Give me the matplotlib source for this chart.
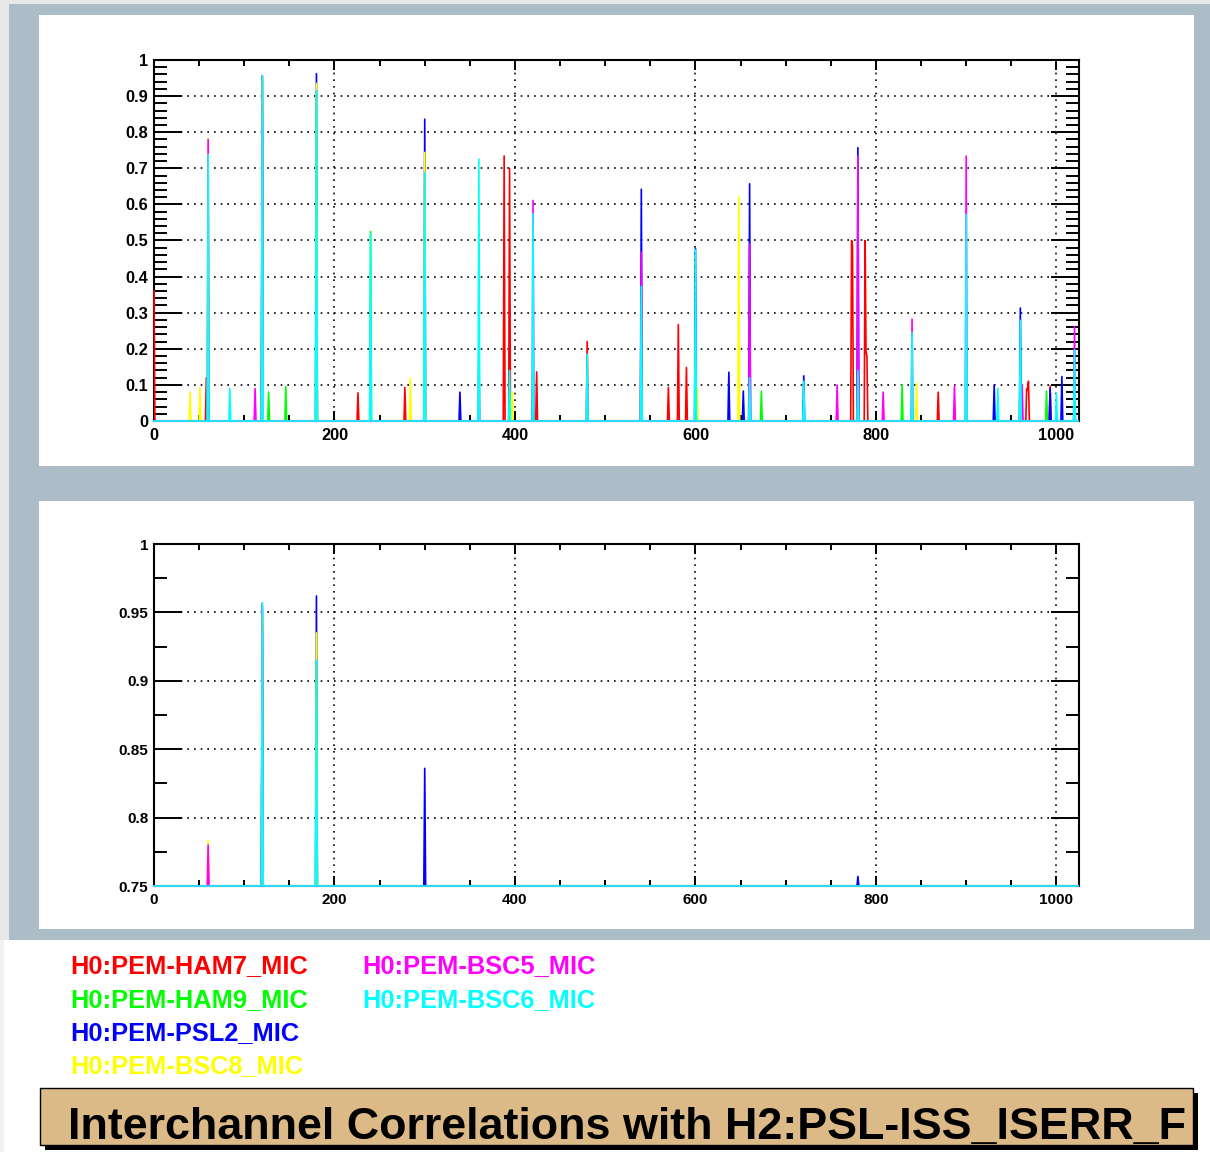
import numpy as np
import matplotlib
matplotlib.use("Agg")
import matplotlib.pyplot as plt
from matplotlib.patches import Rectangle
from matplotlib.ticker import MultipleLocator, FuncFormatter

W, H = 1210, 1152
n_bins = 1025

channels = ["H0:PEM-HAM7_MIC", "H0:PEM-HAM9_MIC", "H0:PEM-PSL2_MIC",
            "H0:PEM-BSC8_MIC", "H0:PEM-BSC5_MIC", "H0:PEM-BSC6_MIC"]
colors = ["#ff0000", "#00ff00", "#0000ff", "#ffff00", "#ff00ff", "#00ffff"]
title = "Interchannel Correlations with H2:PSL-ISS_ISERR_F"

# correlation peaks per channel: frequency bin -> value (zero elsewhere)
ham7_x = [0, 58, 226, 278, 388, 394, 424, 480, 570, 581, 590,
          773, 774, 788, 789, 790, 869, 967, 968, 969, 993]
ham7_y = [0.36, 0.12, 0.078, 0.093, 0.734, 0.70, 0.136, 0.22, 0.093, 0.267, 0.148,
          0.50, 0.485, 0.50, 0.19, 0.18, 0.08, 0.09, 0.085, 0.11, 0.097]

ham9_x = [120, 127, 146, 180, 240, 673, 829, 989]
ham9_y = [0.95, 0.08, 0.095, 0.915, 0.525, 0.083, 0.10, 0.083]

psl2_x = [120, 180, 300, 339, 420, 540, 600, 637, 653, 660, 720, 780, 931, 960, 993, 1006]
psl2_y = [0.955, 0.962, 0.836, 0.08, 0.14, 0.642, 0.478, 0.135, 0.083, 0.657, 0.125,
          0.757, 0.10, 0.313, 0.09, 0.123]

bsc8_x = [40, 51, 60, 120, 180, 284, 300, 397, 602, 648, 845]
bsc8_y = [0.08, 0.092, 0.783, 0.95, 0.935, 0.118, 0.744, 0.08, 0.09, 0.623, 0.105]

bsc5_x = [60, 112, 120, 360, 420, 540, 660, 757, 780, 808, 840, 887, 900, 962, 1020]
bsc5_y = [0.78, 0.09, 0.957, 0.2, 0.611, 0.468, 0.49, 0.10, 0.734, 0.08, 0.282, 0.097,
          0.734, 0.10, 0.262]

bsc6_x = [60, 84, 120, 180, 240, 300, 360, 394, 420, 480, 540, 600, 660, 720, 780,
          840, 900, 935, 960, 1000, 1020]
bsc6_y = [0.738, 0.09, 0.957, 0.915, 0.518, 0.688, 0.725, 0.14, 0.574, 0.185, 0.373,
          0.475, 0.12, 0.11, 0.14, 0.245, 0.572, 0.09, 0.279, 0.077, 0.197]

peaks = [(ham7_x, ham7_y), (ham9_x, ham9_y), (psl2_x, psl2_y),
         (bsc8_x, bsc8_y), (bsc5_x, bsc5_y), (bsc6_x, bsc6_y)]

freq = np.arange(n_bins)
traces = []
for xs, ys in peaks:
    t = np.zeros(n_bins)
    t[xs] = ys
    traces.append(t)


def fx(x):
    return x / W


def fy(y):
    return 1 - y / H


def box(x0, y0, x1, y1, **kw):
    fig.add_artist(Rectangle((fx(x0), fy(y1)), (x1 - x0) / W, (y1 - y0) / H,
                             transform=fig.transFigure, **kw))


def fit_width(txt, target_px):
    # rescale a text so its rendered width matches target_px
    r = fig.canvas.get_renderer()
    w = txt.get_window_extent(renderer=r).width
    txt.set_fontsize(txt.get_fontsize() * target_px / w)


plt.rcParams["font.family"] = ["Liberation Sans", "DejaVu Sans"]
plt.rcParams["font.weight"] = "bold"

fig = plt.figure(figsize=(W / 100, H / 100), dpi=100, facecolor="white")

# canvas frame and the two white pads
box(0, 0, 9, 940, facecolor="#e8e8e8", edgecolor="none", zorder=-3)
box(0, 940, 4, 1152, facecolor="#f0f0f0", edgecolor="none", zorder=-3)
box(0, 0, 1210, 4, facecolor="#e8e8e8", edgecolor="none", zorder=-3)
box(9, 4, 1210, 940, facecolor="#acbdc7", edgecolor="none", zorder=-2)
box(39, 15, 1194, 466, facecolor="white", edgecolor="none", zorder=-1)
box(39, 501, 1194, 929, facecolor="white", edgecolor="none", zorder=-1)

fmt = FuncFormatter(lambda v, p: f"{v:g}")


def style(ax, ylim, ymajor, yminor, size):
    ax.set_xlim(0, n_bins)
    ax.set_ylim(*ylim)
    ax.xaxis.set_major_locator(MultipleLocator(200))
    ax.xaxis.set_minor_locator(MultipleLocator(50))
    ax.yaxis.set_major_locator(MultipleLocator(ymajor))
    ax.yaxis.set_minor_locator(MultipleLocator(yminor))
    ax.xaxis.set_major_formatter(fmt)
    ax.yaxis.set_major_formatter(fmt)
    ax.tick_params(which="both", direction="in", top=True, right=True,
                   width=1.4, labelsize=size)
    ax.tick_params(axis="y", which="major", length=20, pad=4)
    ax.tick_params(axis="y", which="minor", length=9.5)
    ax.tick_params(axis="x", which="major", length=7, pad=5)
    ax.tick_params(axis="x", which="minor", length=4.2)
    for s in ax.spines.values():
        s.set_linewidth(1.5)
    ax.grid(True, which="major", color="black", linestyle=(0, (1, 3)), linewidth=1.2)


ax1 = fig.add_axes([fx(154), fy(421), (1079 - 154) / W, (421 - 60) / H])
style(ax1, (0, 1), 0.1, 0.02, 11.8)
for t, c in zip(traces, colors):
    ax1.plot(freq, t, color=c, lw=1.2, zorder=3, clip_on=False)

ax2 = fig.add_axes([fx(154), fy(886), (1079 - 154) / W, (886 - 544) / H])
style(ax2, (0.75, 1), 0.05, 0.025, 11)
for t, c in zip(traces, colors):
    ax2.plot(freq, np.maximum(t, 0.75), color=c, lw=1.2, zorder=3, clip_on=False)

# channel list, two columns
legend_pos = [(70, 973), (70, 1007), (70, 1040), (70, 1073), (362, 973), (362, 1007)]
labels = []
for name, c, (x, y) in zip(channels, colors, legend_pos):
    labels.append(fig.text(fx(x), fy(y), name, color=c, fontsize=16, fontweight="bold",
                           va="baseline", ha="left"))
fit_width(labels[0], 238)
for lab in labels[1:]:
    lab.set_fontsize(labels[0].get_fontsize())

# title banner with drop shadow
box(45, 1093, 1198, 1150, facecolor="black", edgecolor="none", zorder=1)
box(40, 1088, 1193, 1145, facecolor="#dcba88", edgecolor="black", linewidth=1, zorder=2)
head = fig.text(fx(68), fy(1139), title, fontsize=32, fontweight="bold",
                va="baseline", ha="left", zorder=3)
fit_width(head, 1120)

fig.savefig("out.png", dpi=100, facecolor=fig.get_facecolor())
